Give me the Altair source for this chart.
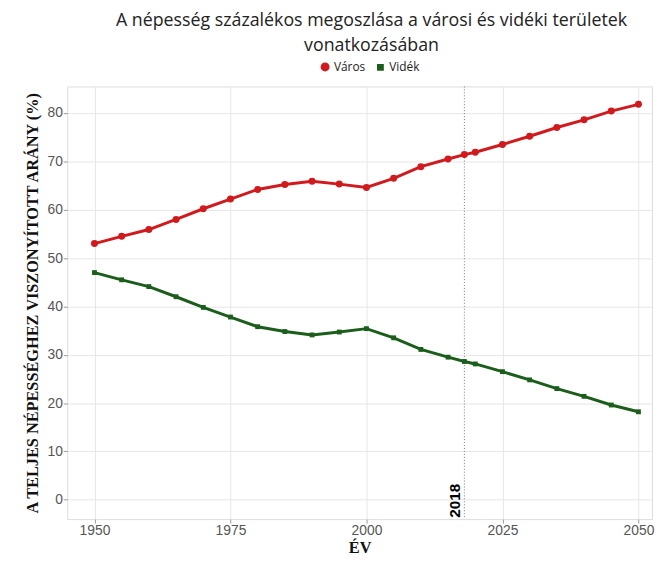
import altair as alt
import pandas as pd

years = [1950, 1955, 1960, 1965, 1970, 1975, 1980, 1985, 1990, 1995, 2000,
         2005, 2010, 2015, 2018, 2020, 2025, 2030, 2035, 2040, 2045, 2050]
varos = [53.0, 54.5, 55.9, 58.0, 60.2, 62.2, 64.2, 65.2, 65.9, 65.3, 64.6,
         66.5, 68.9, 70.5, 71.4, 71.9, 73.5, 75.2, 77.0, 78.6, 80.4, 81.8]
videk = [47.0, 45.5, 44.1, 42.0, 39.8, 37.8, 35.8, 34.8, 34.1, 34.7, 35.4,
         33.5, 31.1, 29.5, 28.6, 28.1, 26.5, 24.8, 23.0, 21.4, 19.6, 18.2]
series_names = ["Város", "Vidék"]
series_colors = ["#D01A1E", "#1B5E1B"]
x_ticks = [1950, 1975, 2000, 2025, 2050]
y_ticks = [0, 10, 20, 30, 40, 50, 60, 70, 80]
marker_year = [2018]

rows = []
for name, vals in zip(series_names, [varos, videk]):
    for y, v in zip(years, vals):
        rows.append({"ev": y, "arany": v, "sorozat": name})
df = pd.DataFrame(rows)
mdf = pd.DataFrame({"ev": marker_year, "label": [str(m) for m in marker_year], "yy": [-3.7]})

xscale = alt.Scale(domain=[1945, 2052.5], nice=False, zero=False)
yscale = alt.Scale(domain=[-4, 85.5], nice=False, zero=False)

color = alt.Color("sorozat:N", scale=alt.Scale(domain=series_names, range=series_colors),
                  legend=alt.Legend(title=None, orient="none", direction="horizontal",
                                    legendX=255, legendY=-26,
                                    symbolSize=60, symbolStrokeWidth=2, labelFontSize=12,
                                    labelFont="Open Sans", labelColor="#222",
                                    columnPadding=8, labelOffset=3))

x = alt.X("ev:Q", scale=xscale,
          axis=alt.Axis(values=x_ticks, format="d", title="ÉV"))
y = alt.Y("arany:Q", scale=yscale,
          axis=alt.Axis(values=y_ticks, title="A TELJES NÉPESSÉGHEZ VISZONYÍTOTT ARÁNY (%)"))

base = alt.Chart(df)
lines = base.mark_line(strokeWidth=3).encode(x=x, y=y, color=color)
points = base.mark_point(filled=True, opacity=1).encode(
    x=x, y=y, color=alt.Color("sorozat:N", scale=alt.Scale(domain=series_names, range=series_colors), legend=None),
    shape=alt.Shape("sorozat:N", scale=alt.Scale(domain=series_names, range=["circle", "square"]), legend=None),
    size=alt.Size("sorozat:N", scale=alt.Scale(domain=series_names, range=[50, 24]), legend=None))

rule = alt.Chart(mdf).mark_rule(color="#777", strokeDash=[1, 2], strokeWidth=1).encode(x=alt.X("ev:Q", scale=xscale))
txt = alt.Chart(mdf).mark_text(angle=270, align="left", baseline="bottom", fontSize=15.5,
                               fontWeight="bold", font="Liberation Sans", color="#000", dy=-1).encode(
    x=alt.X("ev:Q", scale=xscale), y=alt.Y("yy:Q", scale=yscale), text="label:N")

chart = alt.layer(rule, lines, points, txt).properties(
    width=592, height=438,
    autosize=alt.AutoSizeParams(type="none"),
    padding={"left": 60, "top": 76, "right": 5, "bottom": 40},
    title=alt.TitleParams(
        text=["A népesség százalékos megoszlása a városi és vidéki területek", "vonatkozásában"],
        fontSize=18, font="Open Sans", fontWeight="normal", color="#222",
        anchor="middle", lineHeight=25, offset=6, dx=12),
).configure_view(stroke="#dcdcdc", strokeWidth=1).configure_axis(
    grid=True, gridColor="#e6e6e6", domain=False, tickColor="#999", tickSize=4,
    labelFont="Liberation Sans", labelFontSize=14, labelColor="#555", labelPadding=1,
    titleFont="Liberation Serif", titleFontSize=16.5, titleFontWeight="bold", titleColor="#111",
).configure_axisY(titlePadding=7).configure_axisX(titlePadding=2)

chart.save("out.html", embed_options={"renderer": "svg", "actions": False})
